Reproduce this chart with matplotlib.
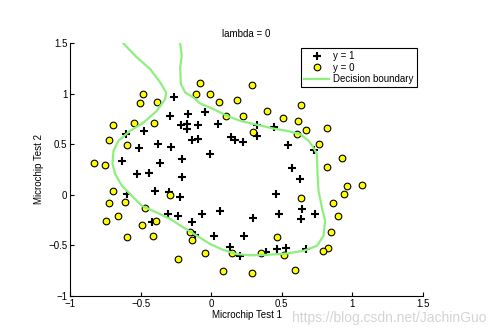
import matplotlib
matplotlib.use("Agg")
import matplotlib.pyplot as plt

plt.rcParams['font.family'] = ['Liberation Sans', 'DejaVu Sans']

# accepted chips (y = 1)
pos_x = [0.051267, -0.092742, -0.21371, -0.375, -0.51325, -0.52477, -0.39804, -0.30588,
         0.016705, 0.13191, 0.38537, 0.52938, 0.63882, 0.73675, 0.54666, 0.322, 0.16647,
         -0.046659, -0.17339, -0.47869, -0.60541, -0.62846, -0.59389, -0.42108, -0.11578,
         0.20104, 0.46601, 0.67339, -0.13882, -0.29435, -0.26555, -0.16187, -0.17339,
         -0.28276, -0.36348, -0.30012, -0.23675, -0.06394, 0.062788, 0.22984, 0.2932,
         0.48329, 0.64459, 0.46025, 0.6273, 0.57546, 0.72523, 0.22408, 0.44297, 0.322,
         0.13767, -0.0063364, -0.092742, -0.20795, -0.20795, -0.43836, -0.21947, -0.13882]
pos_y = [0.69956, 0.68494, 0.69225, 0.50219, 0.46564, 0.2098, 0.034357, -0.19225,
         -0.40424, -0.51389, -0.56506, -0.5212, -0.24342, -0.18494, 0.48757, 0.5826, 0.53874,
         0.81652, 0.69956, 0.63377, 0.59722, 0.33406, 0.005117, -0.27266, -0.39693,
         -0.60161, -0.53582, -0.53582, 0.54605, 0.77997, 0.96272, 0.8019, 0.64839,
         0.47295, 0.31213, 0.027047, -0.21418, -0.18494, -0.16301, -0.41155, -0.2288,
         -0.18494, -0.14108, 0.012427, 0.15863, 0.26827, 0.44371, 0.52412, 0.67032, 0.69225,
         0.57529, 0.39985, 0.55336, 0.35599, 0.17325, 0.21711, -0.016813, -0.27266]

# rejected chips (y = 0)
neg_x = [0.18376, 0.22408, 0.29896, 0.50634, 0.61578, 0.60426, 0.76555, 0.92684, 0.82316,
         0.96141, 0.93836, 0.86348, 0.89804, 0.85196, 0.82892, 0.79435, 0.59274, 0.51786,
         0.46601, 0.35081, 0.28744, 0.085829, 0.14919, -0.13306, -0.40956, -0.39228,
         -0.74366, -0.69758, -0.75518, -0.69758, -0.4038, -0.38076, -0.50749, -0.54781,
         0.10311, 0.057028, -0.10426, -0.081221, 0.28744, 0.39689, 0.63882, 0.82316,
         0.67339, 1.0709, -0.046659, -0.23675, -0.15035, -0.49021, -0.46717, -0.28859,
         -0.61118, -0.66302, -0.59965, -0.72638, -0.83007, -0.72062, -0.59389, -0.48445,
         -0.0063364, 0.63265]
neg_y = [0.93348, 0.77997, 0.61915, 0.75804, 0.7288, 0.59722, 0.50219, 0.3633, 0.27558,
         0.085526, 0.012427, -0.082602, -0.20687, -0.36769, -0.5212, -0.55775, -0.7405,
         -0.5943, -0.41886, -0.57968, -0.76974, -0.75512, -0.57968, -0.4481, -0.41155,
         -0.25804, -0.25804, 0.041667, 0.2902, 0.68494, 0.70687, 0.91886, 0.90424, 0.70687,
         0.77997, 0.91886, 0.99196, 1.1089, 1.087, 0.82383, 0.88962, 0.66301, 0.64108,
         0.10015, -0.57968, -0.63816, -0.36769, -0.3019, -0.13377, -0.0060673, -0.067032,
         -0.21418, -0.41886, -0.082602, 0.31213, 0.53874, 0.49488, 0.99927, 0.99927,
         -0.030612]

# decision boundary
bound_x = [-0.621, -0.526, -0.432, -0.361, -0.319, -0.326, -0.385, -0.479, -0.574, -0.657,
           -0.692, -0.699, -0.680, -0.632, -0.562, -0.491, -0.385, -0.290, -0.196, -0.101,
           -0.007, 0.087, 0.182, 0.276, 0.394, 0.536, 0.654, 0.749, 0.795, 0.807, 0.784,
           0.760, 0.753, 0.749, 0.724, 0.689, 0.630, 0.536, 0.441, 0.324, 0.205, 0.111,
           0.016, -0.078, -0.125, -0.184, -0.215, -0.220, -0.208, -0.220]
bound_y = [1.495, 1.357, 1.242, 1.110, 1.011, 0.946, 0.830, 0.714, 0.632, 0.534,
           0.435, 0.303, 0.205, 0.089, -0.010, -0.109, -0.175, -0.240, -0.323, -0.405,
           -0.487, -0.546, -0.586, -0.598, -0.593, -0.580, -0.553, -0.504, -0.405, -0.257,
           -0.125, 0.040, 0.208, 0.402, 0.467, 0.534, 0.600, 0.632, 0.655, 0.692, 0.731,
           0.781, 0.847, 0.902, 0.961, 1.011, 1.094, 1.258, 1.374, 1.495]

fig = plt.figure(figsize=(4.94, 3.33), dpi=100)
ax = fig.add_axes([70 / 494, 1 - 296 / 333, 353 / 494, 253 / 333])

ax.plot(pos_x, pos_y, 'k+', markersize=5.2, mew=1.5, label='y = 1')
ax.plot(neg_x, neg_y, 'o', markerfacecolor='#ffff00', markeredgecolor='k',
        markersize=4.8, mew=0.8, label='y = 0')
ax.plot(bound_x, bound_y, color='#8ef07c', linewidth=1.6, label='Decision boundary')

ax.set_xlim(-1, 1.5)
ax.set_ylim(-1, 1.5)
ax.set_xticks([-1, -0.5, 0, 0.5, 1, 1.5])
ax.set_yticks([-1, -0.5, 0, 0.5, 1, 1.5])
ax.set_xticklabels(['\u22121', '\u22120.5', '0', '0.5', '1', '1.5'])
ax.set_yticklabels(['\u22121', '\u22120.5', '0', '0.5', '1', '1.5'])
ax.tick_params(direction='in', length=3, width=0.8, labelsize=7, pad=2)
ax.spines['top'].set_visible(False)
ax.spines['right'].set_visible(False)

ax.set_title('lambda = 0', fontsize=7, pad=4)
ax.set_xlabel('Microchip Test 1', fontsize=7, labelpad=1)
ax.set_ylabel('Microchip Test 2', fontsize=7, labelpad=3)

leg = ax.legend(loc='upper right', bbox_to_anchor=(0.99, 0.99), fontsize=7, fancybox=False,
                framealpha=1, borderpad=0.3, labelspacing=0.15, handlelength=2.6,
                handletextpad=0.4, borderaxespad=0.3)
leg.get_frame().set_edgecolor('k')
leg.get_frame().set_linewidth(0.8)

fig.text(0.985, 0.025, 'https://blog.csdn.net/JachinGuo', ha='right', va='bottom',
         fontsize=10, color='#d4d4d4')

fig.savefig('out.png', dpi=100)
